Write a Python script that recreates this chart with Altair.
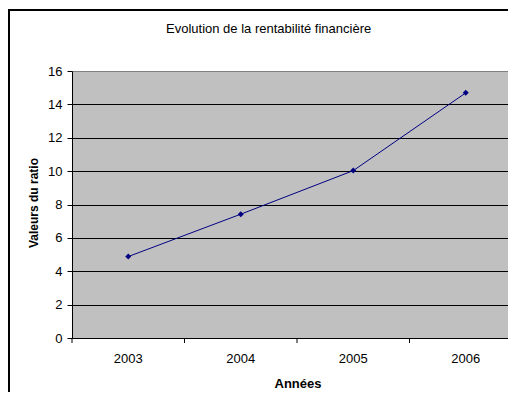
import altair as alt
import pandas as pd

years = ["2003", "2004", "2005", "2006"]
ratio = [4.88, 7.42, 10.03, 14.69]
y_ticks = [0, 2, 4, 6, 8, 10, 12, 14, 16]

df = pd.DataFrame({"annee": years, "ratio": ratio})
FONT = "Liberation Sans"

xscale = alt.Scale(type="band", rangeMin=0, rangeMax=450, paddingInner=0, paddingOuter=0)

x_enc = alt.X(
    "annee:N",
    sort=years,
    scale=xscale,
    axis=alt.Axis(
        title="Années", labelAngle=0, grid=False, domain=False, ticks=False,
        labelPadding=14,
        labelFont=FONT, labelFontSize=13, labelColor="black",
        titleFont=FONT, titleFontSize=13, titleFontWeight="bold", titleColor="black",
        titleX=225.5, titleY=49, titleAlign="center", titleBaseline="alphabetic",
    ),
)
y_enc = alt.Y(
    "ratio:Q",
    scale=alt.Scale(domain=[0, 16], nice=False),
    axis=alt.Axis(
        values=y_ticks, title="Valeurs du ratio", grid=True,
        gridColor={"condition": {"test": "datum.value === 16", "value": "#808080"}, "value": "black"},
        gridWidth=1, domainColor="black", tickColor="black", tickSize=5, labelPadding=5,
        labelFont=FONT, labelFontSize=13, labelColor="black",
        titleFont=FONT, titleFontSize=12, titleFontWeight="bold", titleColor="black",
        titleX=-35, titleY=131.5, titleAngle=270, titleAlign="center", titleBaseline="alphabetic",
    ),
)

one = alt.Data(values=[{"k": 1}])
# outer chart frame (left and top edges; right/bottom fall outside the picture)
frame_left = alt.Chart(one).mark_rect(color="black", opacity=1).encode(
    x=alt.value(-64), x2=alt.value(-62), y=alt.value(-62), y2=alt.value(321)
)
frame_top = alt.Chart(one).mark_rect(color="black", opacity=1).encode(
    x=alt.value(-64), x2=alt.value(436), y=alt.value(-62), y2=alt.value(-60)
)

# category-boundary tick marks below the x axis
xticks = alt.Chart(df).mark_rule(color="black", strokeWidth=1).encode(
    x=alt.X("annee:N", sort=years, scale=xscale, bandPosition=0),
    y=alt.value(267),
    y2=alt.value(272),
)

base = alt.Chart(df).encode(x=x_enc, y=y_enc)
line = base.mark_line(color="#000080", strokeWidth=1)
pts = base.mark_point(shape="diamond", filled=True, size=36, color="#000080", opacity=1)

chart = alt.layer(line, pts, xticks, frame_left, frame_top).properties(
    width=436,
    height=267,
    autosize=alt.AutoSizeParams(type="none"),
    padding={"left": 64, "top": 63, "right": 0, "bottom": 54},
    title=alt.TitleParams(
        "Evolution de la rentabilité financière", font=FONT, fontSize=13,
        fontWeight="normal", color="black", anchor="start", frame="group",
        baseline="alphabetic", offset=0, dx=94, dy=37,
    ),
    background="white",
).configure_view(fill="#C0C0C0", stroke="transparent")

chart.save("out.html", embed_options={"renderer": "svg", "actions": False})
